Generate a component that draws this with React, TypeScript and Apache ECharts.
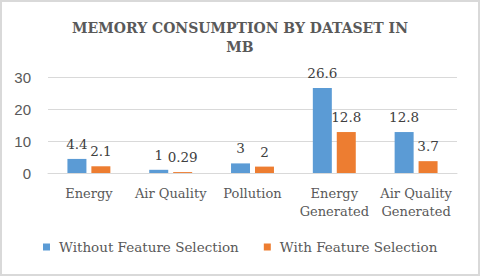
import React, { useEffect, useRef } from "react";
import * as echarts from "echarts";

const categories = ["Energy", "Air Quality", "Pollution", "Energy\nGenerated", "Air Quality\nGenerated"];
const withoutFS = [4.4, 1, 3, 26.6, 12.8];
const withFS = [2.1, 0.29, 2, 12.8, 3.7];
const seriesNames = ["Without Feature Selection", "With Feature Selection"];
const titleText = "MEMORY CONSUMPTION BY DATASET IN\nMB";

const SERIF = "DejaVu Serif";
const SANS = "Liberation Sans";

export default function App() {
  const ref = useRef<HTMLDivElement>(null);
  useEffect(() => {
    if (!ref.current) return;
    const chart = echarts.init(ref.current, undefined, { renderer: "svg" });
    const label = {
      show: true,
      position: "top",
      distance: 8,
      fontFamily: SERIF,
      fontSize: 13.5,
      color: "#404040",
    };
    chart.setOption({
      animation: false,
      backgroundColor: "#ffffff",
      title: {
        text: titleText,
        left: "center",
        top: 13,
        textStyle: {
          fontFamily: SERIF,
          fontWeight: "bold",
          fontSize: 14,
          lineHeight: 19,
          color: "#595959",
        },
      },
      grid: { left: 48, right: 23, top: 77, bottom: 103, containLabel: false },
      xAxis: {
        type: "category",
        data: categories,
        axisLine: { show: true, lineStyle: { color: "#d9d9d9" } },
        axisTick: { show: false },
        axisLabel: {
          interval: 0,
          margin: 11,
          fontFamily: SERIF,
          fontSize: 13,
          lineHeight: 18,
          color: "#595959",
          verticalAlign: "top",
        },
      },
      yAxis: {
        type: "value",
        min: 0,
        max: 30,
        interval: 10,
        axisLine: { show: false },
        axisTick: { show: false },
        splitLine: { lineStyle: { color: "#d9d9d9" } },
        axisLabel: {
          margin: 17,
          fontFamily: SANS,
          fontSize: 15,
          color: "#595959",
        },
      },
      legend: {
        left: 38,
        top: 235,
        itemWidth: 7,
        itemHeight: 7,
        itemGap: 25,
        icon: "rect",
        textStyle: {
          fontFamily: SERIF,
          fontSize: 13.5,
          color: "#595959",
          padding: [0, 0, 0, 4],
        },
        data: seriesNames,
      },
      series: [
        {
          name: seriesNames[0],
          type: "bar",
          data: withoutFS,
          barWidth: 19,
          barGap: "26%",
          itemStyle: { color: "#5B9BD5" },
          label,
        },
        {
          name: seriesNames[1],
          type: "bar",
          data: withFS,
          barWidth: 19,
          itemStyle: { color: "#ED7D31" },
          label,
        },
      ],
      graphic: [
        {
          type: "rect",
          shape: { x: 1, y: 1, width: 478, height: 274 },
          style: { fill: "none", stroke: "#d9d9d9", lineWidth: 2 },
          silent: true,
        },
      ],
    });
    return () => chart.dispose();
  }, []);
  return (
    <div
      ref={ref}
      style={{ position: "absolute", left: 0, top: 0, width: 480, height: 276 }}
    />
  );
}
